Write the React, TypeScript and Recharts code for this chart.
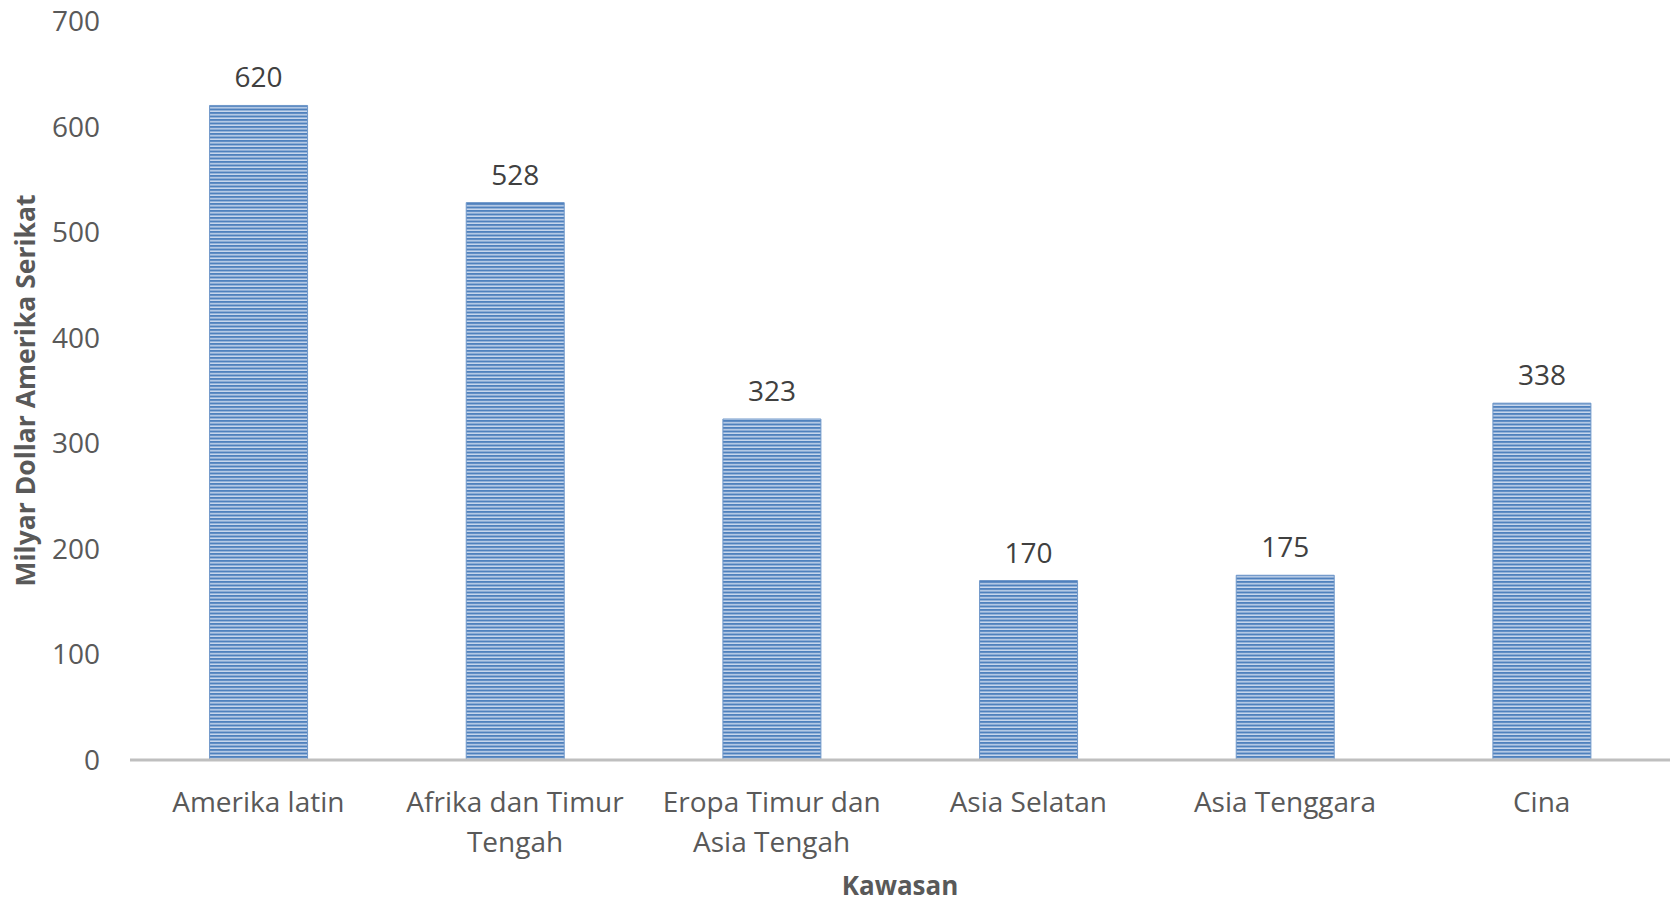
import React from "react"
import { BarChart, Bar, XAxis, YAxis, LabelList } from "recharts"

const categories = [
  "Amerika latin",
  "Afrika dan Timur Tengah",
  "Eropa Timur dan Asia Tengah",
  "Asia Selatan",
  "Asia Tenggara",
  "Cina",
]
const values = [620, 528, 323, 170, 175, 338]
const yTicks = [0, 100, 200, 300, 400, 500, 600, 700]

const data = categories.map((name, i) => ({ name, value: values[i] }))

const FONT = "'Open Sans', 'Noto Sans', sans-serif"
const GREY = "#595959"

// naive word wrap, about 16 chars per line
function wrap(text: string, max = 16) {
  const lines: string[] = []
  let cur = ""
  text.split(" ").forEach((w) => {
    const next = cur ? cur + " " + w : w
    if (next.length > max && cur) {
      lines.push(cur)
      cur = w
    } else {
      cur = next
    }
  })
  if (cur) lines.push(cur)
  return lines
}

function CategoryTick(props: any) {
  const { x, y, payload } = props
  const lines = wrap(payload.value)
  return (
    <text x={x} y={y} textAnchor="middle" fill={GREY} fontFamily={FONT} fontSize={28}>
      {lines.map((l, i) => (
        <tspan key={i} x={x} dy={i === 0 ? 44 : 40}>
          {l}
        </tspan>
      ))}
    </text>
  )
}

export default function App() {
  return (
    <div style={{ position: "absolute", left: 0, top: 0, background: "#fff" }}>
      <BarChart
        width={1673}
        height={902}
        data={data}
        margin={{ top: 21, right: 3, bottom: 0, left: 0 }}
        barCategoryGap="31%"
      >
        <defs>
          <pattern id="stripes" width="8" height="3.5" patternUnits="userSpaceOnUse">
            <rect width="8" height="3.5" fill="#c9d8ed" />
            <rect width="8" height="2" fill="#4f81bd" />
          </pattern>
        </defs>
        <XAxis
          dataKey="name"
          tick={<CategoryTick />}
          tickLine={false}
          axisLine={{ stroke: "#bfbfbf", strokeWidth: 3 }}
          interval={0}
          label={{
            value: "Kawasan",
            position: "insideBottom",
            offset: 7,
            fill: GREY,
            fontFamily: FONT,
            fontSize: 26,
            fontWeight: 700,
          }}
          height={142}
        />
        <YAxis
          width={130}
          domain={[0, 700]}
          ticks={yTicks}
          tickLine={false}
          axisLine={false}
          tickSize={0}
          tickMargin={30}
          tick={{ fill: GREY, fontFamily: FONT, fontSize: 28 }}
          label={{
            value: "Milyar Dollar Amerika Serikat",
            angle: -90,
            position: "insideLeft",
            offset: 26,
            style: { textAnchor: "middle" },
            fill: GREY,
            fontFamily: FONT,
            fontSize: 26.5,
            fontWeight: 700,
          }}
        />
        <Bar
          dataKey="value"
          fill="url(#stripes)"
          stroke="#6f97c9"
          strokeWidth={1}
          isAnimationActive={false}
        >
          <LabelList
            dataKey="value"
            position="top"
            offset={18}
            fill="#404040"
            fontFamily={FONT}
            fontSize={28}
          />
        </Bar>
      </BarChart>
    </div>
  )
}
